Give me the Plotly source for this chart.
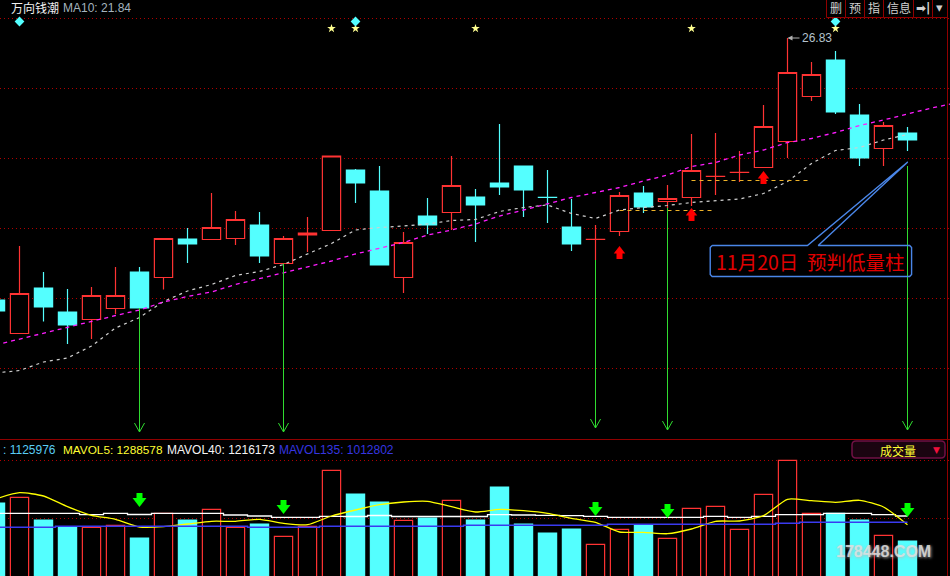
import plotly.graph_objects as go

W, H = 950, 576

# ---- data -----------------------------------------------------------------
days = list(range(-1, 38))
opens = [21.59,20.92,21.83,21.35,21.20,21.42,22.15,22.04,22.81,22.80,22.82,23.09,22.32,22.89,22.98,24.19,23.77,22.04,23.27,23.34,23.65,23.93,24.27,23.645,23.05,22.80,22.96,23.73,23.56,23.64,24.06,24.14,24.24,24.76,25.66,26.39,25.29,24.62,24.93]
highs = [21.59,22.67,22.15,21.81,21.85,22.25,22.25,22.82,23.03,23.73,23.37,23.35,22.87,23.25,24.47,24.21,24.27,22.95,23.63,24.47,23.81,25.11,24.27,24.19,23.61,23.09,23.75,23.87,23.89,24.91,24.93,24.57,25.49,26.83,26.35,26.57,25.51,25.15,25.05]
lows = [21.37,20.92,21.16,20.71,20.81,21.31,21.43,21.80,22.33,22.80,22.69,22.33,22.32,22.55,22.98,23.53,22.29,21.73,22.91,22.99,22.75,23.69,23.25,23.13,22.57,22.39,22.87,23.33,23.43,23.47,23.69,23.95,24.23,24.43,25.57,25.31,24.27,24.27,24.57]
closes = [21.37,21.72,21.45,21.09,21.68,21.68,21.43,22.82,22.71,23.04,23.20,22.47,22.82,22.93,24.47,23.93,22.29,22.74,23.09,23.88,23.49,23.85,23.79,23.64,22.71,22.805,23.68,23.45,23.62,24.18,24.065,24.145,25.06,26.14,26.10,25.35,24.43,25.08,24.79]

ma_days = list(range(-1, 40))
ma_magenta = [20.69,20.81,20.93,21.05,21.16,21.28,21.39,21.55,21.66,21.75,21.90,22.02,22.13,22.26,22.37,22.51,22.63,22.74,22.89,22.99,23.11,23.27,23.39,23.51,23.64,23.74,23.84,23.97,24.09,24.26,24.34,24.49,24.59,24.74,24.82,24.94,25.08,25.19,25.31,25.43,25.53]
ma_white = [20.13,20.18,20.35,20.43,20.67,21.03,21.24,21.56,21.77,21.90,22.08,22.16,22.30,22.51,22.72,22.99,23.04,23.07,23.11,23.18,23.20,23.36,23.44,23.49,23.32,23.22,23.39,23.44,23.48,23.54,23.58,23.61,23.72,23.96,24.32,24.58,24.64,24.79,24.90]

volumes = [2001000,2132000,1610000,1449000,1442000,1488000,1196000,1764000,1610000,1856000,1442000,1518000,1235000,1465000,2753000,2208000,2024000,1603000,1656000,2063000,1610000,2369000,1518000,1311000,1403000,1051000,1396000,1495000,1189000,1879000,1925000,1396000,2201000,2983000,1764000,1764000,1610000,1258000,1125976]
mavol5 = [2093000,2238000,2162000,1916000,1718000,1626000,1449000,1456000,1518000,1580000,1580000,1626000,1534000,1502000,1702000,1840000,1962000,2024000,2040000,1916000,1794000,1856000,1824000,1764000,1649000,1557000,1334000,1327000,1295000,1403000,1580000,1587000,1709000,2086000,2054000,2017000,2063000,1909000,1502000]
mavol40 = [1764000,1764000,1764000,1764000,1732000,1764000,1737000,1764000,1764000,1764000,1725000,1702000,1672000,1672000,1695000,1691000,1714000,1691000,1691000,1691000,1691000,1732000,1725000,1718000,1709000,1695000,1672000,1672000,1672000,1672000,1695000,1672000,1695000,1732000,1732000,1764000,1764000,1732000,1702000]
mavol135 = [1442000,1442000,1442000,1465000,1465000,1465000,1465000,1465000,1465000,1465000,1465000,1442000,1442000,1442000,1465000,1465000,1465000,1465000,1465000,1465000,1488000,1488000,1488000,1488000,1488000,1488000,1511000,1511000,1511000,1511000,1511000,1511000,1511000,1534000,1557000,1557000,1557000,1557000,1557000]

stars = [13, 14, 19, 28, 34]
star_price = 27.02
diamonds = [0, 14, 34]
diamond_price = 27.16

signal_days = [5, 11, 24, 27, 37]
signal_tops = [21.43, 22.32, 22.39, 23.43, 24.27]
signal_tips = [18.95, 18.95, 19.03, 18.99, 18.99]
signal_vols = [2047000, 1886000, 1840000, 1794000, 1817000]

up_days = [25, 28, 31]
up_prices = [22.57, 23.33, 24.07]

support_a = ([25, 28.87], [23.38, 23.38])
support_b = ([28, 32.85], [23.98, 23.98])

grid_prices = [27.22, 25.82, 24.42, 23.02, 21.62, 20.22]
grid_vols = [2983100, 1649100]

callout_x = [28.86,32.83,37.01,33.28,37.09,37.17,37.17,37.09,28.86,28.78,28.78,28.86]
callout_y = [22.68,22.68,24.35,22.68,22.68,22.64,22.10,22.06,22.06,22.10,22.64,22.68]

# ---- colours ---------------------------------------------------------------
RED, CYAN = "#FF3333", "#54FFFF"
GRID = "#B00000"
FRAME = "#900000"
GREEN = "#30DC30"
FONT = "Liberation Sans, Arial, sans-serif"
CJK = "Noto Sans CJK SC, sans-serif"

is_up = [c >= o for o, c in zip(opens, closes)]
fig = go.Figure()

# ---- price panel -----------------------------------------------------------
fig.add_trace(go.Candlestick(
    x=days, open=opens, high=highs, low=lows, close=closes, whiskerwidth=0,
    increasing=dict(line=dict(color=RED, width=1.2), fillcolor="#000000"),
    decreasing=dict(line=dict(color=CYAN, width=1.2), fillcolor=CYAN),
))


def line(x, y, color, width=1.0, dash=None, **kw):
    fig.add_trace(go.Scatter(x=x, y=y, mode="lines", hoverinfo="skip",
                             line=dict(color=color, width=width, dash=dash, **kw)))


line(ma_days, ma_white, "#D0D0D0", 1.2, "3px,4px")
line(ma_days, ma_magenta, "#FF1CFF", 1.3, "4px,4px")
line(*support_a, "#F0B428", 1.2, "4px,4px")
line(*support_b, "#F0B428", 1.2, "4px,4px")

for d, top, tip in zip(signal_days, signal_tops, signal_tips):
    line([d, d], [top, tip], GREEN, 1)
    line([d - 0.21, d, d + 0.21], [tip + 0.18, tip, tip + 0.18], GREEN, 1)

fig.add_trace(go.Scatter(x=up_days, y=[p - 0.10 for p in up_prices], mode="markers", hoverinfo="skip",
                         marker=dict(symbol="square", size=6, color="#FF0000", line=dict(width=0))))
fig.add_trace(go.Scatter(x=up_days, y=up_prices, mode="markers", hoverinfo="skip",
                         marker=dict(symbol="triangle-up", size=10, color="#FF0000", line=dict(width=0))))
fig.add_trace(go.Scatter(x=stars, y=[star_price] * len(stars), mode="markers", hoverinfo="skip",
                         marker=dict(symbol="star", size=6.5, color="#FFFF90", line=dict(width=0))))
fig.add_trace(go.Scatter(x=diamonds, y=[diamond_price] * len(diamonds), mode="markers", hoverinfo="skip",
                         marker=dict(symbol="diamond", size=7.5, color=CYAN, line=dict(width=0))))
line(callout_x, callout_y, "#4A86E8", 1.4)

# ---- volume panel ----------------------------------------------------------
fig.add_trace(go.Bar(
    x=days, y=volumes, width=0.76, xaxis="x2", yaxis="y2", hoverinfo="skip",
    marker=dict(color=["#000000" if u else CYAN for u in is_up],
                line=dict(color=[RED if u else CYAN for u in is_up], width=1.2)),
))


def vline(y, color, width=1.3, **kw):
    fig.add_trace(go.Scatter(x=days, y=y, mode="lines", xaxis="x2", yaxis="y2", hoverinfo="skip",
                             line=dict(color=color, width=width, **kw)))


vline(mavol40, "#FFFFFF", 1.3, shape="hvh")
vline(mavol5, "#FFFF00", 1.3, shape="spline", smoothing=0.6)
vline(mavol135, "#3A3AF0", 1.5, shape="hvh")

fig.add_trace(go.Scatter(x=signal_days, y=[v + 115000 for v in signal_vols], mode="markers", xaxis="x2", yaxis="y2",
                         hoverinfo="skip", marker=dict(symbol="square", size=6, color="#00FF00", line=dict(width=0))))
fig.add_trace(go.Scatter(x=signal_days, y=signal_vols, mode="markers", xaxis="x2", yaxis="y2",
                         hoverinfo="skip", marker=dict(symbol="triangle-down", size=12, color="#00FF00", line=dict(width=0))))


# ---- chrome ----------------------------------------------------------------
def px(x):
    return x / W


def py(y):
    return 1 - y / H


shapes = [
    dict(type="line", xref="paper", yref="paper", x0=0, x1=1, y0=py(439.5), y1=py(439.5),
         line=dict(color=FRAME, width=1)),
    dict(type="line", xref="paper", yref="paper", x0=px(947.5), x1=px(947.5), y0=0, y1=1,
         line=dict(color=FRAME, width=1)),
]
for a, b in [(826.5, 845.5), (845.5, 864.5), (864.5, 883.5), (883.5, 913.5), (913.5, 932.5), (932.5, 947.5)]:
    shapes.append(dict(type="rect", xref="paper", yref="paper", x0=px(a), x1=px(b), y0=py(17.5), y1=py(-2),
                       fillcolor="#000000", line=dict(color=FRAME, width=1)))
L, R, T, B = px(852), px(945), py(441), py(458)
dx, dy = px(4), 4 / H
shapes.append(dict(
    type="path", xref="paper", yref="paper",
    path=f"M{L+dx},{T} L{R-dx},{T} Q{R},{T} {R},{T-dy} L{R},{B+dy} Q{R},{B} {R-dx},{B} "
         f"L{L+dx},{B} Q{L},{B} {L},{B+dy} L{L},{T-dy} Q{L},{T} {L+dx},{T} Z",
    fillcolor="#1A0410", line=dict(color="#701044", width=1.5)))


def label(x, y, text, color, size=12, family=FONT, anchor="left", **kw):
    return dict(xref="paper", yref="paper", x=px(x), y=py(y), text=text, showarrow=False,
                xanchor=anchor, yanchor="middle", font=dict(color=color, size=size, family=family, **kw),
                borderpad=0, borderwidth=0)


annotations = [
    label(11, 7.5, "万向钱潮", "#F0F0F0", 12, CJK),
    label(63, 7.5, "MA10: 21.84", "#A4B4BE", 12),
    label(836, 8, "删", "#D0D0D0", 12, CJK, "center"),
    label(855, 8, "预", "#D0D0D0", 12, CJK, "center"),
    label(874, 8, "指", "#D0D0D0", 12, CJK, "center"),
    label(898.5, 8, "信息", "#D0D0D0", 12, CJK, "center"),
    label(923, 8, "➡|", "#D0D0D0", 12, "DejaVu Sans", "center", weight="bold"),
    label(939.5, 8, "▾", "#D0D0D0", 13, "DejaVu Sans", "center"),
    label(3, 449.5, ": 1125976", "#5ACDF5", 12),
    label(62.5, 449.5, "MAVOL5: 1288578", "#FFFF33", 11.8),
    label(167, 449.5, "MAVOL40: 1216173", "#F4F4F4", 12),
    label(279, 449.5, "MAVOL135: 1012802", "#3636E0", 12),
    label(897.5, 450, "成交量", "#FFFF33", 12, CJK, "center"),
    label(936.5, 450, "▼", "#F0103C", 9, "DejaVu Sans", "center"),
    label(716, 261, "11月20日  预判低量柱", "#E00000", 19.5, CJK),
    label(883, 551.5, "178448.COM", "rgba(225,225,225,0.85)", 16, "Liberation Sans", "center",
          weight="bold", shadow="1px 1px 3px #BBBBBB"),
    dict(xref="x", yref="y", x=32, y=26.83, text="26.83", showarrow=True, ax=12, ay=0, axref="pixel", ayref="pixel",
         xanchor="left", yanchor="middle", arrowcolor="#B0B0B0", arrowhead=2, arrowsize=1, arrowwidth=1, standoff=0,
         font=dict(color="#B4C2CC", size=12, family=FONT)),
]

x_range = [-19.5 / 24, (W - 19.5) / 24]
hidden_x = dict(range=x_range, showgrid=False, zeroline=False, showticklabels=False, ticks="", showline=False,
                fixedrange=True)
split = 1 - 439 / H

fig.update_layout(
    width=W, height=H, autosize=False,
    margin=dict(l=0, r=0, t=0, b=0, pad=0),
    paper_bgcolor="#000000", plot_bgcolor="#000000",
    showlegend=False, boxgap=0.24, boxgroupgap=0, barmode="overlay",
    xaxis=dict(hidden_x, anchor="y", rangeslider=dict(visible=False)),
    xaxis2=dict(hidden_x, anchor="y2", matches="x"),
    yaxis=dict(domain=[split, 1], range=[18.81, 27.59], tickvals=grid_prices, showticklabels=False, ticks="",
               showgrid=True, gridcolor=GRID, griddash="1px,3px", gridwidth=1, zeroline=False, fixedrange=True),
    yaxis2=dict(domain=[0, split], range=[322000, 3473000], tickvals=grid_vols, showticklabels=False, ticks="",
                showgrid=True, gridcolor=GRID, griddash="1px,3px", gridwidth=1, zeroline=False, fixedrange=True),
    shapes=shapes, annotations=annotations,
)

fig.write_html("out.html", config={"displayModeBar": False},
               post_script="document.body.style.margin='0';document.body.style.background='#000';")
